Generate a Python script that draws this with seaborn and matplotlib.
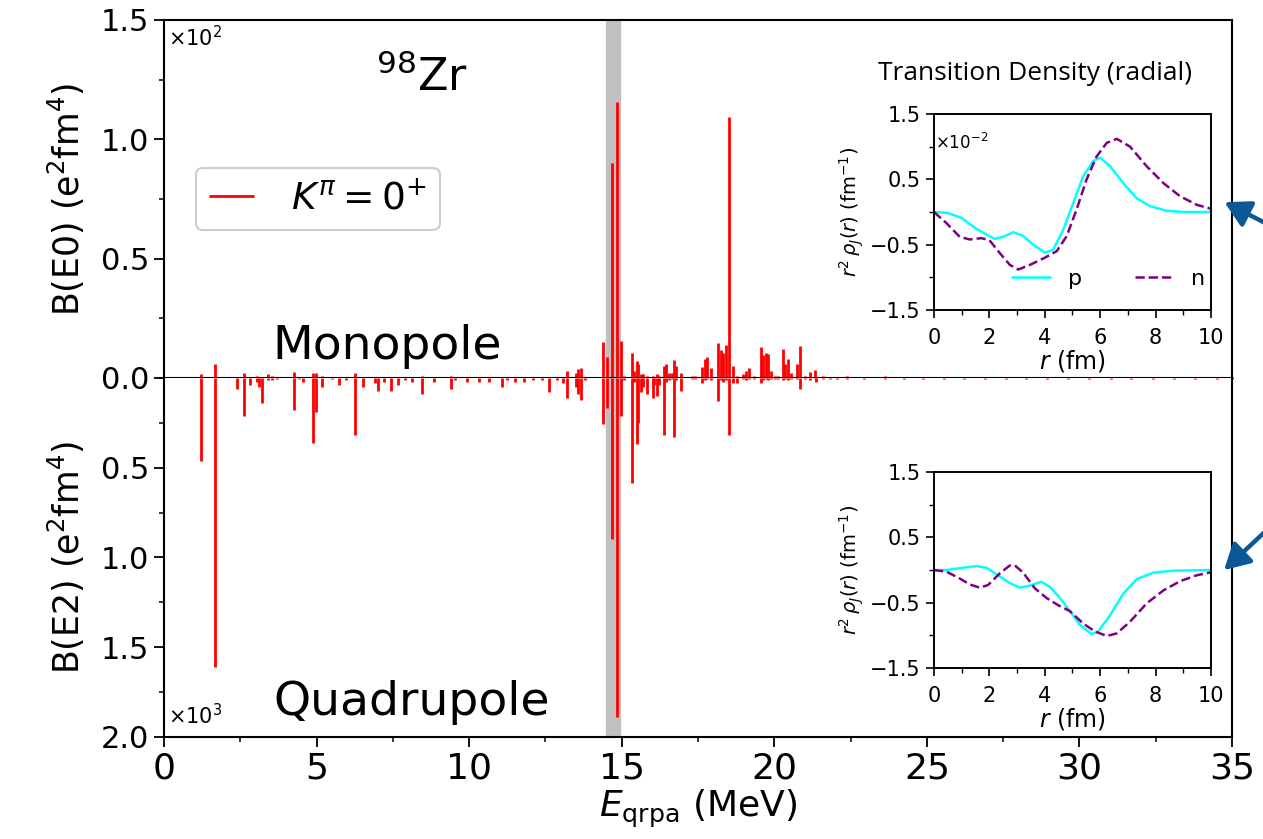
import matplotlib
matplotlib.use("Agg")
import matplotlib.pyplot as plt
from matplotlib.patches import FancyArrowPatch
from matplotlib.ticker import MultipleLocator
import seaborn as sns
import numpy as np

# --- QRPA states: energy (MeV), B(E0) (x10^2), B(E2) (x10^3) ---
energy = [1.23, 1.67, 2.40, 2.62, 2.82, 3.04, 3.11, 3.22, 3.41, 3.53, 3.69, 4.26, 4.43, 4.56,
          4.87, 4.97, 5.18, 5.50, 5.74, 5.95, 6.26, 6.51, 6.92, 7.01, 7.21, 7.44, 7.67, 7.90,
          8.12, 8.45, 8.85, 9.40, 9.54, 9.92, 10.33, 10.65, 11.08, 11.24, 11.50, 11.80, 12.10,
          12.38, 12.63, 12.87, 13.08, 13.20, 13.50, 13.57, 13.67, 13.80,
          14.40, 14.53, 14.69, 14.83, 14.98, 15.08, 15.33, 15.40, 15.49, 15.55, 15.62, 15.69,
          15.84, 16.02, 16.07, 16.17, 16.23, 16.39, 16.46, 16.56, 16.64, 16.72, 16.78, 16.94,
          17.30, 17.40, 17.62, 17.73, 17.81, 17.93, 18.17, 18.24, 18.31, 18.42, 18.51, 18.66,
          18.79, 18.97, 19.07, 19.17, 19.32, 19.57, 19.64, 19.72, 19.81, 19.88, 20.03, 20.13,
          20.28, 20.35, 20.46, 20.54, 20.74, 20.83, 21.00, 21.18, 21.32, 21.38, 21.60, 21.82,
          22.04, 22.38, 22.60, 22.95, 23.30, 23.62, 23.90, 24.25, 24.61, 24.88, 25.20, 25.57,
          25.90, 26.22, 26.55, 26.91, 27.20, 27.58, 27.93, 28.26, 28.60, 28.95, 29.31, 29.64,
          29.98, 30.30, 30.66, 31.02, 31.35, 31.70, 32.05, 32.40, 32.76, 33.10, 33.45, 33.80,
          34.15, 34.50, 34.85]
be0 = [0.017, 0.059, 0.0, 0.02, 0.005, 0.01, 0.0, 0.005, 0.017, 0.008, 0.005, 0.026, 0.004, 0.0,
       0.02, 0.02, 0.01, 0.003, 0.003, 0.004, 0.022, 0.0, 0.004, 0.003, 0.003, 0.002, 0.004, 0.003,
       0.004, 0.01, 0.003, 0.01, 0.004, 0.003, 0.003, 0.003, 0.006, 0.003, 0.003, 0.002, 0.003,
       0.002, 0.004, 0.002, 0.003, 0.03, 0.02, 0.038, 0.04, 0.005,
       0.15, 0.088, 0.90, 1.158, 0.153, 0.01, 0.105, 0.03, 0.07, 0.06, 0.015, 0.017,
       0.01, 0.01, 0.005, 0.015, 0.01, 0.05, 0.057, 0.02, 0.02, 0.075, 0.05, 0.02,
       0.01, 0.008, 0.047, 0.08, 0.089, 0.04, 0.145, 0.116, 0.106, 0.138, 1.095, 0.05,
       0.01, 0.015, 0.03, 0.04, 0.01, 0.128, 0.097, 0.106, 0.10, 0.03, 0.01, 0.01,
       0.12, 0.06, 0.08, 0.02, 0.06, 0.136, 0.01, 0.025, 0.035, 0.005, 0.01, 0.006,
       0.005, 0.01, 0.005, 0.006, 0.004, 0.007, 0.005, 0.006, 0.004, 0.005, 0.006, 0.004,
       0.005, 0.006, 0.004, 0.005, 0.004, 0.006, 0.005, 0.004, 0.005, 0.004, 0.005, 0.004,
       0.005, 0.004, 0.005, 0.004, 0.005, 0.004, 0.005, 0.004, 0.004, 0.005, 0.004, 0.004,
       0.005, 0.004, 0.004]
be2 = [0.46, 1.61, 0.06, 0.21, 0.04, 0.02, 0.05, 0.14, 0.01, 0.01, 0.005, 0.18, 0.005, 0.02,
       0.36, 0.19, 0.05, 0.005, 0.04, 0.01, 0.32, 0.05, 0.03, 0.07, 0.02, 0.07, 0.04, 0.01,
       0.02, 0.09, 0.02, 0.06, 0.01, 0.02, 0.02, 0.02, 0.05, 0.01, 0.02, 0.02, 0.01,
       0.01, 0.08, 0.01, 0.03, 0.11, 0.05, 0.09, 0.12, 0.01,
       0.255, 0.167, 0.896, 1.887, 0.21, 0.01, 0.584, 0.02, 0.37, 0.25, 0.08, 0.05,
       0.09, 0.11, 0.04, 0.10, 0.04, 0.32, 0.02, 0.01, 0.005, 0.33, 0.01, 0.07,
       0.005, 0.005, 0.03, 0.01, 0.005, 0.01, 0.13, 0.01, 0.02, 0.01, 0.32, 0.03,
       0.03, 0.005, 0.01, 0.005, 0.005, 0.03, 0.01, 0.005, 0.01, 0.005, 0.005, 0.005,
       0.01, 0.005, 0.01, 0.005, 0.005, 0.06, 0.005, 0.01, 0.005, 0.02, 0.005, 0.003,
       0.003, 0.003, 0.002, 0.003, 0.002, 0.003, 0.002, 0.003, 0.002, 0.003, 0.002, 0.003,
       0.002, 0.003, 0.002, 0.003, 0.002, 0.003, 0.002, 0.003, 0.002, 0.003, 0.002, 0.003,
       0.002, 0.003, 0.002, 0.003, 0.002, 0.003, 0.002, 0.003, 0.002, 0.003, 0.002, 0.003,
       0.002, 0.003, 0.002]

# --- transition densities (x10^-2 fm^-1) ---
r_p_mono = [0, 0.5, 1.0, 1.5, 2.0, 2.2, 2.5, 2.86, 3.2, 3.58, 4.0, 4.3, 4.67, 5.03, 5.39, 5.75,
            6.0, 6.36, 6.84, 7.32, 7.8, 8.4, 9.0, 10.0]
p_mono = [0, -0.015, -0.09, -0.25, -0.37, -0.41, -0.38, -0.31, -0.36, -0.5, -0.62, -0.58, -0.27,
          0.14, 0.55, 0.78, 0.83, 0.7, 0.44, 0.21, 0.09, 0.02, 0.0, 0.0]
r_n_mono = [0, 0.45, 0.93, 1.29, 1.71, 2.0, 2.38, 2.74, 3.04, 3.46, 4.0, 4.43, 4.79, 5.15, 5.51,
            5.87, 6.24, 6.6, 7.08, 7.68, 8.29, 8.89, 9.49, 10.0]
n_mono = [0, -0.17, -0.38, -0.42, -0.4, -0.43, -0.63, -0.81, -0.88, -0.81, -0.7, -0.6, -0.37,
          0.04, 0.5, 0.85, 1.06, 1.12, 1.0, 0.7, 0.44, 0.24, 0.11, 0.05]
r_p_quad = [0, 0.45, 1.05, 1.53, 1.89, 2.38, 2.74, 3.1, 3.46, 3.88, 4.19, 4.55, 4.91, 5.27, 5.69,
            5.93, 6.36, 6.84, 7.32, 7.92, 8.65, 10.0]
p_quad = [0, 0.0, 0.035, 0.06, 0.035, -0.1, -0.2, -0.27, -0.24, -0.18, -0.26, -0.43, -0.63, -0.84,
          -0.98, -0.94, -0.69, -0.36, -0.14, -0.04, -0.01, 0.0]
r_n_quad = [0, 0.45, 0.93, 1.29, 1.65, 1.95, 2.38, 2.74, 2.92, 3.22, 3.64, 4.07, 4.49, 4.91, 5.39,
            5.81, 6.24, 6.6, 7.08, 7.68, 8.29, 8.89, 9.49, 10.0]
n_quad = [0, -0.025, -0.13, -0.22, -0.27, -0.23, -0.05, 0.07, 0.07, -0.04, -0.28, -0.43, -0.54,
          -0.63, -0.82, -0.94, -1.01, -0.97, -0.79, -0.51, -0.31, -0.17, -0.08, -0.035]

sns.set_style("ticks", {"axes.edgecolor": "black", "xtick.color": "black",
                        "ytick.color": "black", "text.color": "black",
                        "axes.labelcolor": "black"})
plt.rcParams["font.family"] = ["DejaVu Sans"]
plt.rcParams["xtick.direction"] = "out"
plt.rcParams["ytick.direction"] = "out"

fig = plt.figure(figsize=(12.63, 8.39), dpi=100)
ax_top = fig.add_axes([0.1298, 0.5495, 0.8457, 0.4267])
ax_bot = fig.add_axes([0.1298, 0.1216, 0.8457, 0.4279], sharex=ax_top)

for ax in (ax_top, ax_bot):
    ax.axvspan(14.47, 14.93, color="#c0c0c0", zorder=0)
    for s in ax.spines.values():
        s.set_linewidth(1.5)
    ax.tick_params(which="major", length=7, width=1.3)
    ax.tick_params(axis="y", labelsize=22)
    ax.tick_params(axis="x", labelsize=26)
    ax.tick_params(which="minor", length=3.5, width=1.1)
    ax.yaxis.set_minor_locator(MultipleLocator(0.25))

ax_top.vlines(energy, 0, be0, color="red", lw=2.0, label=r"$K^{\pi}=0^{+}$")
ax_bot.vlines(energy, 0, be2, color="red", lw=2.0)
ax_top.axhline(0, color="black", lw=1.8, zorder=5, clip_on=False)

ax_top.set_xlim(0, 35)
ax_top.set_ylim(0, 1.5)
ax_top.set_yticks([0, 0.5, 1.0, 1.5])
ax_top.set_yticklabels(["0.0", "0.5", "1.0", "1.5"])
ax_top.tick_params(axis="x", which="both", bottom=False, labelbottom=False)

ax_bot.set_ylim(2.0, 0)
ax_bot.set_yticks([0.5, 1.0, 1.5, 2.0])
ax_bot.set_yticklabels(["0.5", "1.0", "1.5", "2.0"])
ax_bot.spines["top"].set_visible(False)
ax_bot.set_xticks(np.arange(0, 36, 5))
ax_bot.xaxis.set_minor_locator(MultipleLocator(2.5))

ax_top.set_ylabel(r"B(E0) (e$^2$fm$^4$)", fontsize=25, labelpad=10)
ax_bot.set_ylabel(r"B(E2) (e$^2$fm$^4$)", fontsize=25, labelpad=10)
ax_bot.set_xlabel(r"$E_{\rm qrpa}$ (MeV)", fontsize=26, labelpad=2)

ax_top.text(0.004, 0.985, r"$\times10^2$", transform=ax_top.transAxes, fontsize=15,
            ha="left", va="top")
ax_bot.text(0.004, 0.025, r"$\times10^3$", transform=ax_bot.transAxes, fontsize=15,
            ha="left", va="bottom")
ax_top.text(8.45, 1.26, r"$^{98}$Zr", fontsize=32, ha="center", va="center")
ax_top.text(7.3, 0.13, "Monopole", fontsize=34, ha="center", va="center")
ax_bot.text(8.1, 1.81, "Quadrupole", fontsize=34, ha="center", va="center")

leg = ax_top.legend(loc="center left", bbox_to_anchor=(0.012, 0.5), fontsize=27,
                    handlelength=1.2, handletextpad=1.0, borderpad=0.35, fancybox=True,
                    framealpha=1)
leg.get_frame().set_edgecolor("#cccccc")
leg.get_frame().set_linewidth(1.5)

# --- insets ---
in_top = fig.add_axes([0.7395, 0.6305, 0.2193, 0.2336])
in_bot = fig.add_axes([0.7395, 0.2038, 0.2193, 0.2336])
for ax, rp, p, rn, n in ((in_top, r_p_mono, p_mono, r_n_mono, n_mono),
                         (in_bot, r_p_quad, p_quad, r_n_quad, n_quad)):
    sns.lineplot(x=rp, y=p, ax=ax, color="cyan", lw=1.8, label="p")
    sns.lineplot(x=rn, y=n, ax=ax, color="purple", lw=1.8, linestyle="--", label="n")
    ax.set_xlim(0, 10)
    ax.set_ylim(-1.5, 1.5)
    ax.set_yticks([-1.5, -0.5, 0.5, 1.5])
    ax.set_xticks([0, 2, 4, 6, 8, 10])
    ax.xaxis.set_minor_locator(MultipleLocator(1))
    ax.yaxis.set_minor_locator(MultipleLocator(0.5))
    ax.tick_params(which="major", length=6, width=1.2, labelsize=15)
    ax.tick_params(axis="x", which="major", pad=7)
    ax.tick_params(which="minor", length=3.5, width=1.0)
    for s in ax.spines.values():
        s.set_linewidth(1.4)
    ax.set_xlabel(r"$r$ (fm)", fontsize=17, labelpad=0)
    ax.set_ylabel(r"$r^2\,\rho_J(r)$ (fm$^{-1}$)", fontsize=14, labelpad=3)

in_top.legend(loc="center", bbox_to_anchor=(0.63, 0.16), ncol=2, frameon=False,
              fontsize=16, columnspacing=2.4, handlelength=1.7)
in_bot.get_legend().remove()
in_top.text(0.005, 0.85, r"$\times10^{-2}$", transform=in_top.transAxes, fontsize=12,
            ha="left", va="center")
fig.text(1035 / 1263, 1 - 73 / 839, "Transition Density (radial)", fontsize=19,
         family=["Open Sans", "DejaVu Sans"], ha="center", va="center")

# arrows pointing at the insets (cut by the right edge)
for tail, head in (((1285, 233), (1222, 201)), ((1285, 513), (1222, 572))):
    arr = FancyArrowPatch((tail[0] / 1263, 1 - tail[1] / 839), (head[0] / 1263, 1 - head[1] / 839),
                          transform=fig.transFigure, arrowstyle="-|>,head_length=0.9,head_width=0.5",
                          mutation_scale=17, lw=3.2, color="#0c5896", clip_on=False)
    fig.add_artist(arr)

fig.savefig("out.png", dpi=100)
